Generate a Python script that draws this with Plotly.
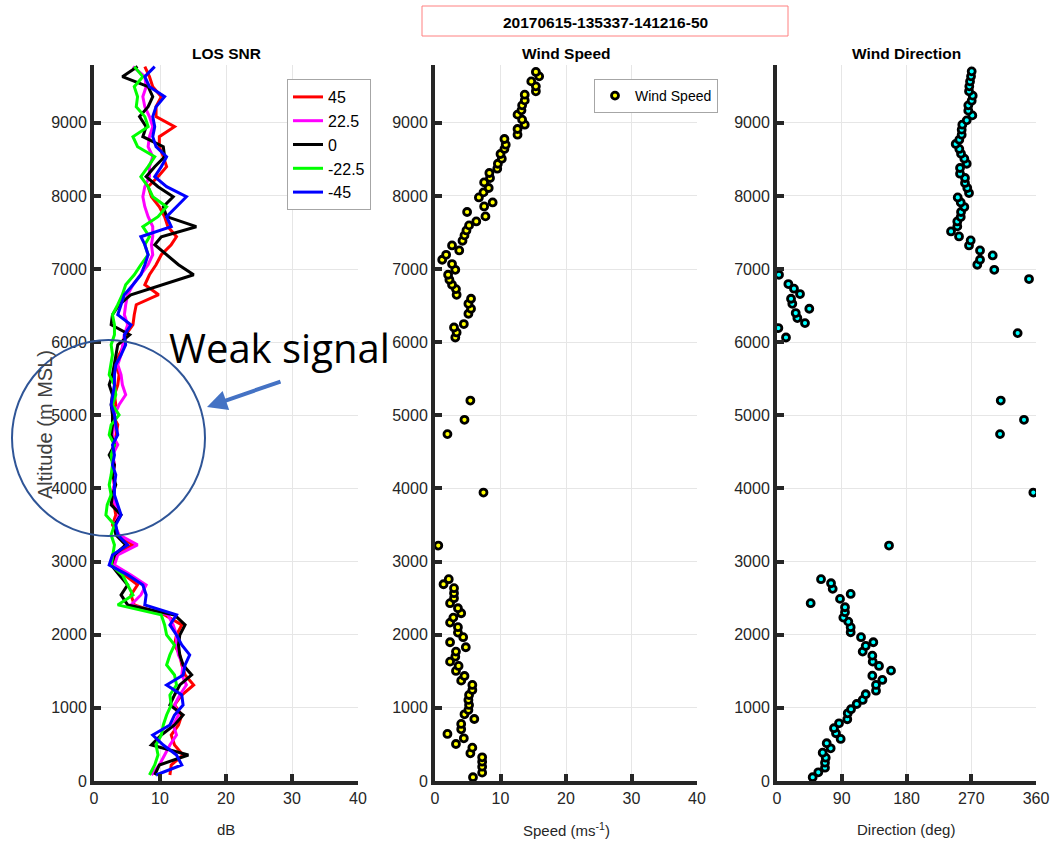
import plotly.graph_objects as go

# ---------------- data ----------------
snr_alt = [82, 219, 356, 492, 629, 766, 903, 1040, 1176, 1313, 1450, 1587, 1724, 1860, 1997, 2134, 2271, 2408,
           2544, 2681, 2818, 2954, 3091, 3228, 3365, 3502, 3638, 3775, 3912, 4049, 4186, 4322, 4459, 4596, 4733, 4870,
           5007, 5144, 5281, 5417, 5554, 5691, 5828, 5965, 6101, 6238, 6375, 6512, 6649, 6785, 6922, 7059, 7196, 7333,
           7442, 7579, 7716, 7852, 7989, 8126, 8263, 8400, 8536, 8673, 8810, 8947, 9084, 9220, 9357, 9494, 9631, 9768]

snr_p45 = [11.5, 11.7, 13.5, 12.2, 11.7, 12.8, 13.3, 12.2, 13.3, 15.1, 13.8, 13.3, 13.0, 12.2, 12.5, 13.3, 10.7, 6.1,
           5.6, 6.6, 4.6, 2.8, 3.3, 5.9, 3.6, 2.8, 3.3, 3.1, 2.8, 3.1, 2.8, 3.1, 2.8, 3.1, 3.3, 3.6,
           2.8, 3.3, 3.1, 3.6, 3.8, 3.3, 3.8, 4.6, 4.8, 5.9, 6.1, 6.4, 9.8, 7.7, 8.4, 9.4, 10.2, 11.7,
           12.5, 11.2, 10.7, 9.9, 8.7, 8.2, 9.7, 11.0, 10.5, 9.9, 9.9, 12.2, 9.4, 9.4, 10.2, 8.9, 8.4, 7.7]

snr_p225 = [8.7, 9.9, 10.7, 11.5, 12.5, 12.0, 12.8, 12.2, 13.0, 14.0, 13.3, 13.5, 12.8, 12.5, 12.5, 12.0, 11.2, 5.6,
            7.1, 7.9, 5.6, 3.1, 3.6, 6.6, 3.8, 3.1, 3.8, 3.3, 2.6, 3.1, 2.8, 3.1, 2.8, 3.6, 2.8, 3.1,
            3.1, 3.8, 4.8, 4.3, 4.1, 3.6, 4.1, 4.3, 4.6, 5.1, 4.6, 4.8, 5.1, 5.9, 7.1, 8.2, 8.9, 8.7,
            8.9, 8.9, 8.2, 7.7, 7.4, 7.7, 8.4, 8.4, 8.9, 8.2, 8.4, 8.9, 8.4, 7.7, 7.4, 7.9, 7.7, 5.9]

snr_0 = [9.2, 9.9, 14.3, 8.7, 10.2, 12.2, 13.5, 11.5, 12.2, 13.0, 14.8, 13.5, 13.0, 12.8, 13.0, 13.8, 12.2, 5.1,
         4.1, 5.1, 3.8, 2.6, 3.1, 4.8, 3.3, 3.1, 4.1, 2.6, 2.8, 3.3, 2.8, 3.1, 2.3, 3.1, 2.6, 2.8,
         2.8, 2.6, 2.8, 2.3, 2.8, 3.1, 3.3, 3.6, 5.4, 2.6, 2.8, 3.8, 5.6, 10.2, 15.1, 12.8, 11.0, 9.2,
         10.2, 15.5, 11.0, 10.5, 12.0, 9.7, 7.9, 9.2, 10.7, 10.5, 7.4, 7.9, 6.9, 8.2, 8.9, 8.2, 4.3, 6.6]

snr_m225 = [8.4, 9.2, 9.7, 9.4, 10.2, 10.5, 11.0, 11.7, 11.5, 12.5, 12.2, 11.0, 11.5, 12.2, 11.0, 10.7, 10.2, 3.6,
            5.9, 5.1, 4.3, 2.6, 2.8, 3.1, 2.6, 3.1, 1.8, 2.0, 2.6, 2.3, 2.6, 2.8, 2.6, 3.1, 2.3, 2.6,
            3.8, 2.8, 3.3, 3.1, 2.3, 2.6, 2.8, 2.6, 3.1, 3.1, 2.8, 3.6, 4.3, 4.8, 6.1, 7.1, 8.2, 7.7,
            8.4, 7.4, 9.7, 11.0, 8.9, 8.2, 7.1, 8.2, 9.2, 6.6, 5.9, 8.2, 7.7, 6.4, 6.6, 6.1, 7.4, 6.1]

snr_m45 = [9.4, 13.3, 12.5, 10.5, 8.9, 11.5, 12.2, 13.5, 13.3, 11.0, 13.5, 13.8, 14.5, 13.3, 12.5, 11.5, 12.5, 7.7,
           7.9, 7.4, 5.1, 2.3, 2.8, 5.1, 3.6, 3.3, 4.1, 3.6, 3.1, 3.1, 3.3, 2.8, 3.1, 2.8, 3.6, 3.3,
           3.1, 2.6, 2.8, 3.1, 3.1, 3.3, 4.1, 4.8, 4.6, 5.6, 3.6, 4.1, 4.6, 5.9, 7.1, 7.7, 8.2, 7.7,
           7.1, 11.7, 11.0, 12.5, 14.0, 11.0, 9.2, 10.2, 11.0, 9.4, 8.9, 9.2, 8.9, 9.4, 10.7, 8.4, 7.7, 9.2]

snr_names = ["45", "22.5", "0", "-22.5", "-45"]
snr_colors = ["#ff0000", "#ff00ff", "#000000", "#00ff00", "#0000ff"]

speed_alt = [51, 114, 196, 264, 324, 379, 456, 506, 584, 643, 707, 780, 848, 912, 971, 1040, 1108, 1176, 1245, 1313,
             1372, 1436, 1505, 1573, 1632, 1700, 1769, 1829, 1897, 1966, 2029, 2103, 2166, 2234, 2294, 2362, 2431,
             2499, 2568, 2636, 2690, 2759, 3219, 3944, 4743, 4939, 5202, 6064, 6133, 6201, 6248, 6389, 6457, 6525,
             6594, 6648, 6726, 6785, 6854, 6922, 6990, 7068, 7127, 7195, 7254, 7323, 7387, 7460, 7528, 7597, 7651,
             7720, 7780, 7856, 7911, 7979, 8048, 8108, 8185, 8245, 8313, 8372, 8440, 8509, 8573, 8642, 8700, 8778,
             8837, 8915, 8974, 9043, 9111, 9170, 9238, 9306, 9384, 9430, 9498, 9566, 9635, 9695]
speed = [5.8, 7.2, 7.2, 7.2, 7.2, 5.4, 5.7, 3.2, 4.4, 1.9, 4.0, 4.0, 6.0, 4.5, 5.1, 5.2, 5.1, 5.2, 5.7, 5.7,
         4.0, 4.5, 3.2, 3.6, 2.3, 3.1, 3.2, 4.7, 2.3, 4.3, 3.5, 3.5, 2.3, 2.8, 4.0, 3.5, 2.3,
         2.9, 2.9, 2.9, 1.3, 2.1, 0.5, 7.4, 1.9, 4.5, 5.4, 3.1, 3.3, 2.9, 4.4, 5.1, 5.5, 5.1,
         5.5, 3.3, 3.2, 2.6, 2.2, 2.0, 3.1, 2.6, 1.1, 1.7, 3.7, 2.6, 4.2, 4.5, 4.8, 5.2, 6.3,
         7.7, 4.9, 7.5, 8.8, 6.7, 7.4, 8.2, 7.5, 8.4, 8.3, 9.5, 9.6, 10.2, 10.0, 10.6, 10.8, 10.6,
         12.6, 12.6, 13.7, 13.3, 12.6, 13.2, 13.3, 13.7, 13.7, 15.4, 15.4, 14.7, 15.9, 15.4]

dir_alt = [51, 119, 182, 250, 319, 387, 447, 516, 575, 653, 721, 789, 844, 926, 981, 1053, 1108, 1186, 1235, 1313,
           1382, 1440, 1509, 1573, 1632, 1714, 1769, 1847, 1897, 1966, 2034, 2103, 2179, 2234, 2308, 2376, 2431,
           2490, 2558, 2627, 2704, 2759, 3219, 3944, 4743, 4939, 5202, 6064, 6124, 6193, 6261, 6330, 6398, 6457,
           6525, 6594, 6658, 6731, 6795, 6863, 6922, 6990, 7059, 7127, 7186, 7254, 7323, 7391, 7446, 7514, 7583,
           7651, 7711, 7780, 7848, 7911, 7979, 8040, 8108, 8177, 8245, 8304, 8382, 8440, 8509, 8577, 8642, 8710,
           8769, 8837, 8906, 8974, 9033, 9101, 9166, 9238, 9302, 9371, 9430, 9498, 9566, 9635, 9703]
direction = [49.6, 57.4, 66.7, 66.7, 67.7, 63.5, 74.6, 69.1, 88.5, 82.0, 79.2, 86.2, 97.7, 98.3, 102.9, 110.8, 119.1,
             123.3, 137.6, 137.6, 146.4, 132.5, 158.5, 141.8, 133.0, 132.5, 119.1, 123.3, 133.9, 116.8, 102.4, 102.4,
             99.1, 92.2, 94.5, 94.5, 46.8, 87.6, 102.4, 77.4, 75.1, 61.2, 155.7, 356.3, 310.0, 343.3, 311.0, 12.5,
             334.5, 1.9, 38.9, 28.3, 26.0, 44.9, 21.3, 19.5, 32.0, 23.6, 15.8, 350.3, 2.8, 302.0, 278.4, 282.2,
             299.8, 282.2, 266.9, 269.2, 253.0, 241.9, 250.6, 250.6, 255.4, 255.8, 260.4, 255.4, 251.2, 266.9, 264.5,
             261.3, 261.3, 254.4, 254.4, 263.7, 260.4, 255.8, 253.4, 248.4, 253.4, 256.7, 256.7, 257.6, 263.7, 271.5,
             265.9, 265.9, 270.6, 272.0, 266.9, 267.3, 268.3, 269.7, 270.6]

alt_ticks = [0, 1000, 2000, 3000, 4000, 5000, 6000, 7000, 8000, 9000]
snr_ticks = [0, 10, 20, 30, 40]
dir_ticks = [0, 90, 180, 270, 360]

# ---------------- figure ----------------
W, H = 1051, 846
FONT = "Liberation Sans, Arial, sans-serif"
AX = "#262626"

fig = go.Figure()

for vals, name, col in zip([snr_p45, snr_p225, snr_0, snr_m225, snr_m45], snr_names, snr_colors):
    fig.add_trace(go.Scatter(x=vals, y=snr_alt, mode="lines", name=name,
                             line=dict(color=col, width=3), xaxis="x", yaxis="y", legend="legend"))

fig.add_trace(go.Scatter(x=speed, y=speed_alt, mode="markers", name="Wind Speed",
                         marker=dict(color="#ffff00", size=7, line=dict(color="#000000", width=2.8)),
                         xaxis="x2", yaxis="y2", legend="legend2"))

fig.add_trace(go.Scatter(x=direction, y=dir_alt, mode="markers", name="Wind Direction",
                         marker=dict(color="#00ffff", size=7, line=dict(color="#000000", width=2.8)),
                         xaxis="x3", yaxis="y3", showlegend=False))


def px(x):
    return x / W


def py(y):
    return 1 - y / H


common = dict(showline=True, linecolor=AX, linewidth=4, ticks="inside", ticklen=7, tickwidth=4,
              tickcolor=AX, showgrid=True, gridcolor="#e6e6e6", gridwidth=1, zeroline=False,
              tickfont=dict(family=FONT, size=16, color=AX), mirror=False, automargin=False)

ydom = [py(781), py(65)]
doms = [[px(94), px(358)], [px(435), px(697)], [px(777), px(1036)]]

lay = dict(template="none", width=W, height=H, autosize=False, margin=dict(l=0, r=0, t=0, b=0, pad=0),
           plot_bgcolor="white", paper_bgcolor="white", showlegend=True)

for i, (dom, rng, tv) in enumerate(zip(doms, [[0, 40], [0, 40], [0, 360]], [snr_ticks, snr_ticks, dir_ticks])):
    s = "" if i == 0 else str(i + 1)
    lay["xaxis" + s] = dict(common, domain=dom, range=rng, tickvals=tv, anchor="y" + s)
    lay["yaxis" + s] = dict(common, domain=ydom, range=[0, 9790], tickvals=alt_ticks, anchor="x" + s)

lay["legend"] = dict(x=px(287), y=py(79), xanchor="left", yanchor="top", bgcolor="white",
                     bordercolor="#a6a6a6", borderwidth=1, font=dict(family=FONT, size=16, color="#000"),
                     itemwidth=30, tracegroupgap=0)
lay["legend2"] = dict(x=px(594), y=py(79), xanchor="left", yanchor="top", bgcolor="white",
                      bordercolor="#a6a6a6", borderwidth=1, font=dict(family=FONT, size=14, color="#000"),
                      itemwidth=30)

fig.update_layout(**lay)

ann = []


def add_text(cx, cy, text, size, color="#000", family=FONT, angle=0):
    ann.append(dict(x=px(cx), y=py(cy), xref="paper", yref="paper", text=text, showarrow=False,
                    xanchor="center", yanchor="middle", textangle=angle,
                    font=dict(family=family, size=size, color=color)))


for cx, t in zip([226, 566, 906], ["LOS SNR", "Wind Speed", "Wind Direction"]):
    add_text(cx, 54, "<b>%s</b>" % t, 15.5)
for cx, t in zip([226, 566, 906], ["dB", "Speed (ms<sup>-1</sup>)", "Direction (deg)"]):
    add_text(cx, 829, t, 15, AX)
add_text(605, 22, "<b>20170615-135337-141216-50</b>", 15.5)
add_text(45, 425, "Altitude (m MSL)", 20, "#404040", angle=-90)
add_text(279, 347, "Weak signal", 40, "#000", family="Open Sans, Noto Sans, sans-serif")
ann.append(dict(x=px(207), y=py(407), xref="paper", yref="paper", text="", showarrow=True,
                ax=75, ay=-26, arrowhead=2, arrowsize=1, arrowwidth=4, arrowcolor="#4472c4"))
fig.update_layout(annotations=ann)

fig.update_layout(shapes=[
    dict(type="rect", xref="paper", yref="paper", x0=px(422), x1=px(788), y0=py(36), y1=py(6),
         line=dict(color="#ff8080", width=1), fillcolor="rgba(0,0,0,0)"),
    dict(type="circle", xref="paper", yref="paper", x0=px(12), x1=px(205), y0=py(536), y1=py(340),
         line=dict(color="#2f5597", width=2), layer="above"),
])

fig.write_html("out.html", config={"displayModeBar": False},
               post_script="document.body.style.margin='0';document.body.style.overflow='hidden';")
